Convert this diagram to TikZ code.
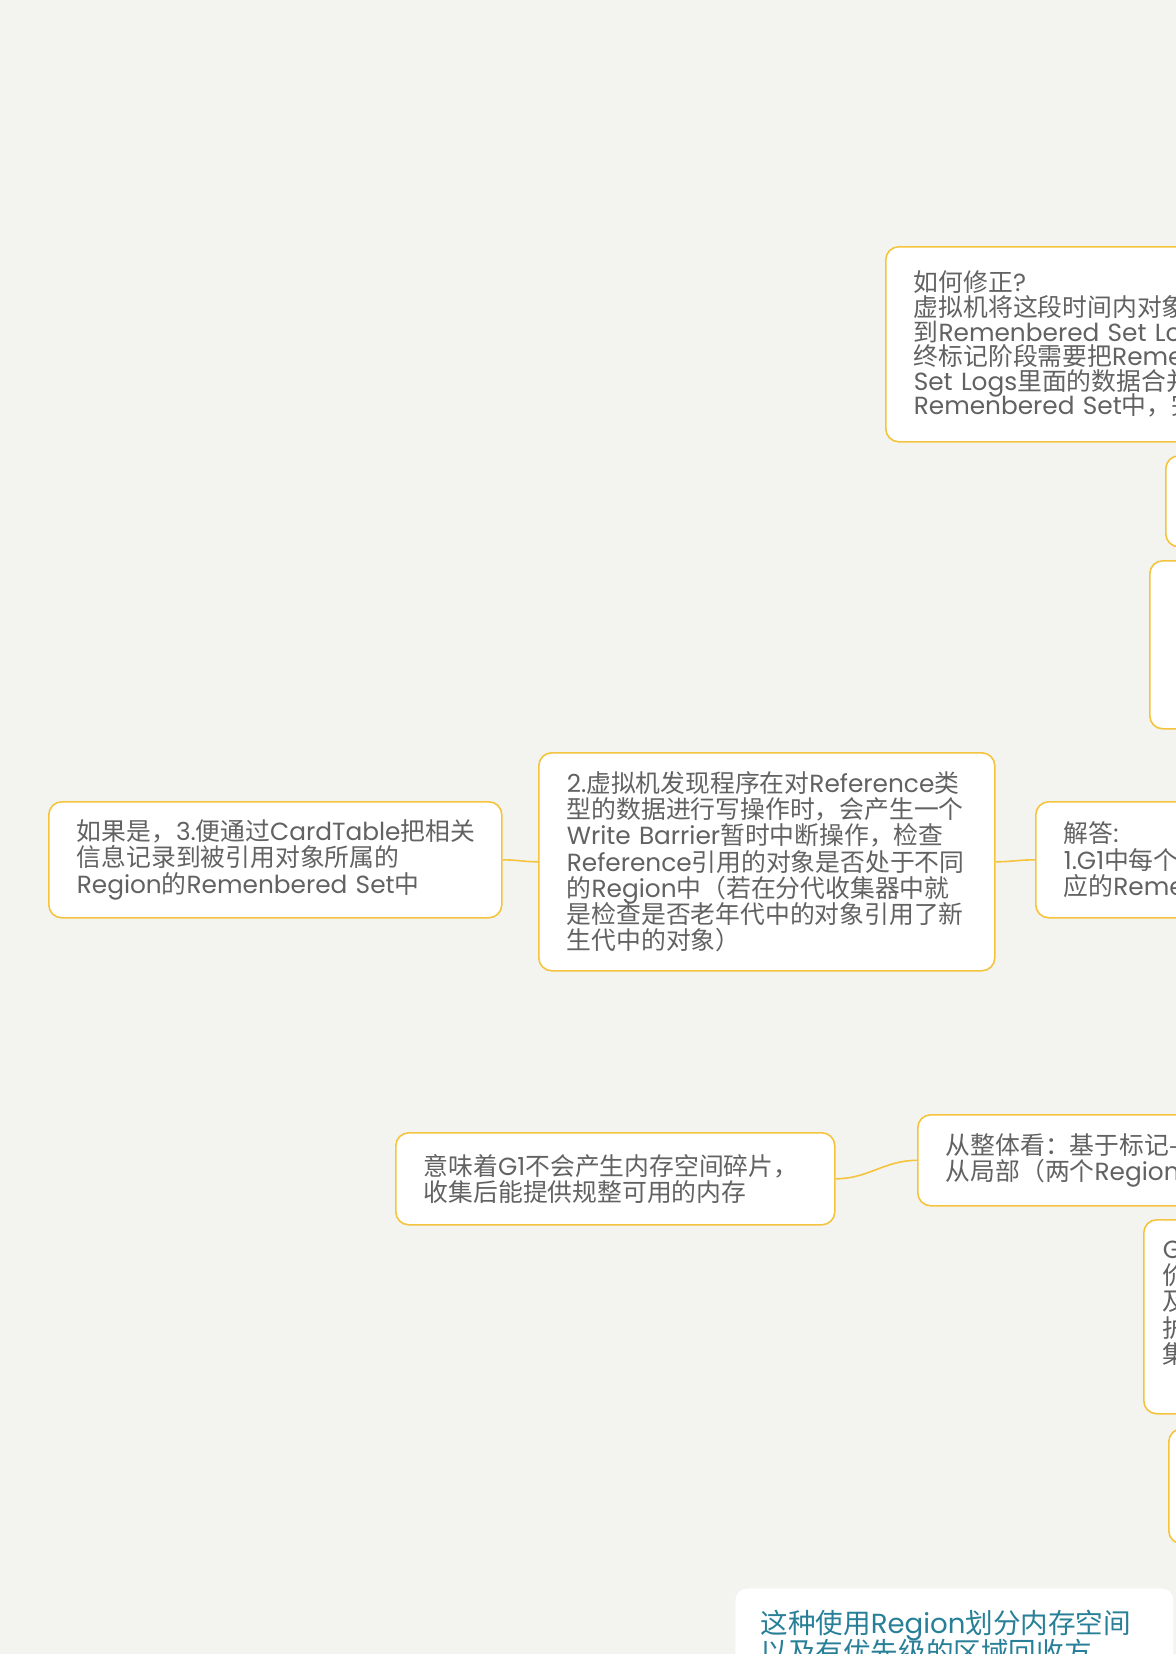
\documentclass[tikz,border=0pt]{standalone}
\usepackage{fontspec}
\setmainfont{Noto Sans CJK SC}
\newfontfamily\latn{Poppins}
\newcommand\en[1]{{\latn #1}}
\newcommand\evenlines{\lineskiplimit=-30pt\relax\lineskip=0pt\relax}
\definecolor{bg}{RGB}{243,244,240}
\definecolor{edge}{RGB}{245,196,62}
\definecolor{ink}{RGB}{98,98,98}
\definecolor{tealink}{RGB}{40,128,152}
\tikzset{
  card/.style={draw=edge, line width=0.8pt, fill=white, rounded corners=6.5pt,
    anchor=north west, inner xsep=14pt, inner ysep=0pt, align=left, text=ink,
    font=\fontsize{12.4}{13.1}\selectfont, execute at begin node=\evenlines},
  panel/.style={fill=white, rounded corners=6pt, anchor=north west,
    inner xsep=12.5pt, inner ysep=11pt, align=left, text=tealink,
    font=\fontsize{13.8}{14.6}\selectfont, execute at begin node=\evenlines},
  link/.style={draw=edge, line width=0.8pt}
}
\begin{document}
\begin{tikzpicture}[x=0.5pt,y=-0.5pt]
\path[use as bounding box, fill=bg] (0,0) rectangle (1176,1654);
\clip (0,0) rectangle (1176,1654);

% upper branch, continuing to the right
\node[card, text width=182pt, minimum height=97.5pt,
      font=\fontsize{12.4}{12.3}\selectfont] (fix) at (885,246)
  {\mbox{如何修正\en{?}}\\
   \mbox{虚拟机将这段时间内对象变化记录}\\
   \mbox{到\en{Remenbered Set Logs}里面，最}\\
   \mbox{终标记阶段需要把\en{Remenbered}}\\
   \mbox{\en{Set Logs}里面的数据合并到}\\
   \mbox{\en{Remenbered Set}中，完成修正}};
\node[card, text width=120pt, minimum height=45.5pt] (b) at (1165,455) {};
\node[card, text width=120pt, minimum height=84pt] (c) at (1149,560) {};

% write barrier chain
\node[card, text width=198.5pt, minimum height=58pt] (cardtable) at (48,801)
  {\mbox{如果是，\en{3.}便通过\en{CardTable}把相关}\\
   \mbox{信息记录到被引用对象所属的}\\
   \mbox{\en{Region}的\en{Remenbered Set}中}};
\node[card, text width=200pt, minimum height=109pt] (barrier) at (538,752)
  {\mbox{\en{2.}虚拟机发现程序在对\en{Reference}类}\\
   \mbox{型的数据进行写操作时，会产生一个}\\
   \mbox{\en{Write Barrier}暂时中断操作，检查}\\
   \mbox{\en{Reference}引用的对象是否处于不同}\\
   \mbox{的\en{Region}中（若在分代收集器中就}\\
   \mbox{是检查是否老年代中的对象引用了新}\\
   \mbox{生代中的对象）}};
\node[card, text width=172pt, minimum height=58pt] (answer) at (1035,801)
  {\mbox{解答\en{:}}\\
   \mbox{\en{1.G1}中每个\en{Region}都有一个与之对}\\
   \mbox{应的\en{Remenbered Set}}};

\draw[link] (cardtable.east) to[out=0,in=180] (barrier.west);
\draw[link] (barrier.east) to[out=0,in=180] (answer.west);

% space integration
\node[card, text width=191.5pt, minimum height=46pt] (nofrag) at (395,1132)
  {\mbox{意味着\en{G1}不会产生内存空间碎片，}\\
   \mbox{收集后能提供规整可用的内存}};
\node[card, text width=232pt, minimum height=45.5pt] (whole) at (917,1114)
  {\mbox{从整体看：基于标记-整理算法实现的收集器}\\
   \mbox{从局部（两个\en{Region}之间）上来看是基于复制算法}};
\draw[link] (nofrag.east) to[out=0,in=180] (whole.west);

\node[card, text width=200pt, inner xsep=9.5pt, minimum height=97pt] (priority) at (1143,1219)
  {\mbox{\en{G1}跟踪各个\en{Region}里面的垃圾堆积的}\\
   \mbox{价值大小（回收所获得的空间大小以}\\
   \mbox{及回收所需时间的经验值），在后台维}\\
   \mbox{护一个优先列表，每次根据允许的收}\\
   \mbox{集时间，优先回收价值最大的\en{Region}}\\
   \mbox{（这也就是\en{Garbage-First}名称的来由）}};
\node[card, text width=120pt, minimum height=57.5pt] (j) at (1168,1428) {};

% summary
\node[panel, text width=194pt] (summary) at (735,1588)
  {\mbox{这种使用\en{Region}划分内存空间}\\
   \mbox{以及有优先级的区域回收方}\\
   \mbox{式，保证了\en{G1}收集器在有限}\\
   \mbox{的时间内可以获取尽可能高}};
\end{tikzpicture}
\end{document}
